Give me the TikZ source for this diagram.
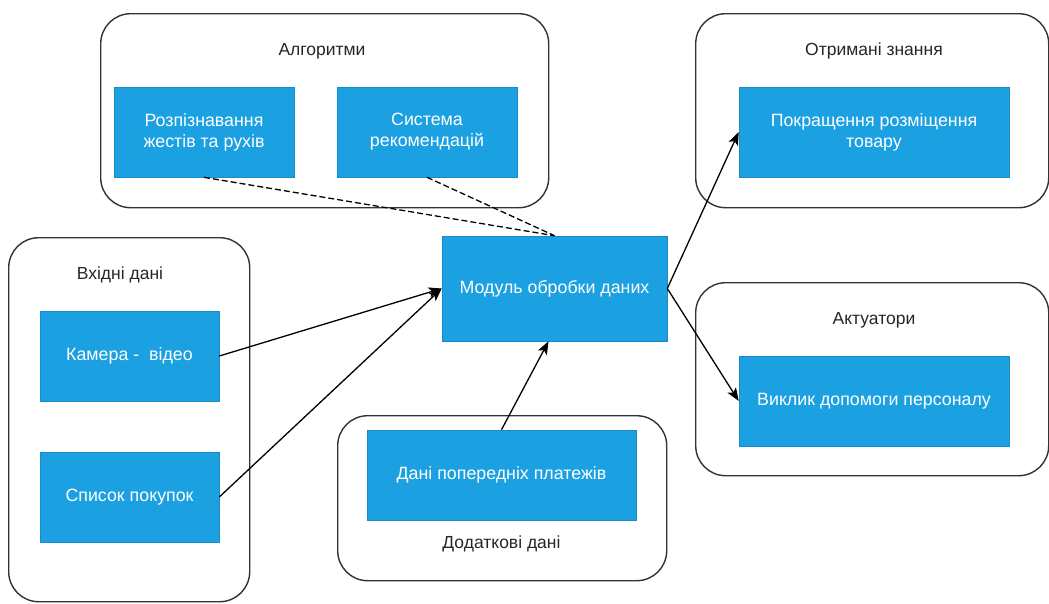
\documentclass[tikz,border=0pt]{standalone}
\usepackage{fontspec}
\setmainfont{Liberation Sans}
\usetikzlibrary{positioning, arrows.meta, shapes}
\definecolor{boxblue}{HTML}{1BA1E2}
\definecolor{boxedge}{HTML}{1A8BC8}

\begin{document}
\begin{tikzpicture}[
            x=1pt, y=-1pt,
            group/.style={rectangle, rounded corners=30pt, draw=black!80, line width=1.4pt, anchor=north west, inner sep=0pt},
            blk/.style={rectangle, fill=boxblue, draw=boxedge, line width=0.6pt, text=white, align=center, inner sep=0pt, font=\fontsize{17.8}{21}\selectfont},
            title/.style={text=black!85, font=\fontsize{17.5}{21}\selectfont},
            link/.style={-{Stealth[length=13pt, width=10pt, inset=3pt]}, line width=1.3pt},
            hint/.style={dash pattern=on 6pt off 3pt, line width=1.3pt},
        ]
            \useasboundingbox (0,0) rectangle (1049,603);

            \node[group, minimum width=448pt, minimum height=194pt] (alg) at (100,13) {};
            \node[group, minimum width=353pt, minimum height=194pt] (know) at (695,13) {};
            \node[group, minimum width=353pt, minimum height=193pt] (act) at (695,282) {};
            \node[group, minimum width=241pt, minimum height=364pt] (input) at (8,237) {};
            \node[group, minimum width=329pt, minimum height=165pt] (extra) at (337,415) {};

            \node[title] (algtitle) at (322,51) {Алгоритми};
            \node[title] (knowtitle) at (874,51) {Отримані знання};
            \node[title] (acttitle) at (874,320) {Актуатори};
            \node[title] (inputtitle) at (120,275) {Вхідні дані};
            \node[title] (extratitle) at (501.5,544) {Додаткові дані};

            \node[blk, minimum width=180pt, minimum height=90pt] (gest) at (204,132) {Розпізнавання\\жестів та рухів};
            \node[blk, minimum width=180pt, minimum height=90pt] (recom) at (427,132) {Система\\рекомендацій};
            \node[blk, minimum width=270pt, minimum height=90pt] (place) at (874,132) {Покращення розміщення\\товару};
            \node[blk, minimum width=270pt, minimum height=90pt] (help) at (874,401) {Виклик допомоги персоналу};
            \node[blk, minimum width=179pt, minimum height=90pt] (cam) at (129.5,356) {Камера - ~відео};
            \node[blk, minimum width=179pt, minimum height=90pt] (buy) at (129.5,497) {Список покупок};
            \node[blk, minimum width=269pt, minimum height=90pt] (pay) at (501.5,475) {Дані попередніх платежів};
            \node[blk, minimum width=225pt, minimum height=105pt] (core) at (554.5,288.5) {Модуль обробки даних};

            \draw[hint] (gest.south) -- (core.north);
            \draw[hint] (recom.south) -- (core.north);
            \draw[link] (cam.east) -- (core.west);
            \draw[link] (buy.east) -- (core.west);
            \draw[link] (pay.north) -- ([xshift=-6pt]core.south);
            \draw[link] (core.east) -- (place.west);
            \draw[link] (core.east) -- (help.west);
        \end{tikzpicture}
\end{document}
